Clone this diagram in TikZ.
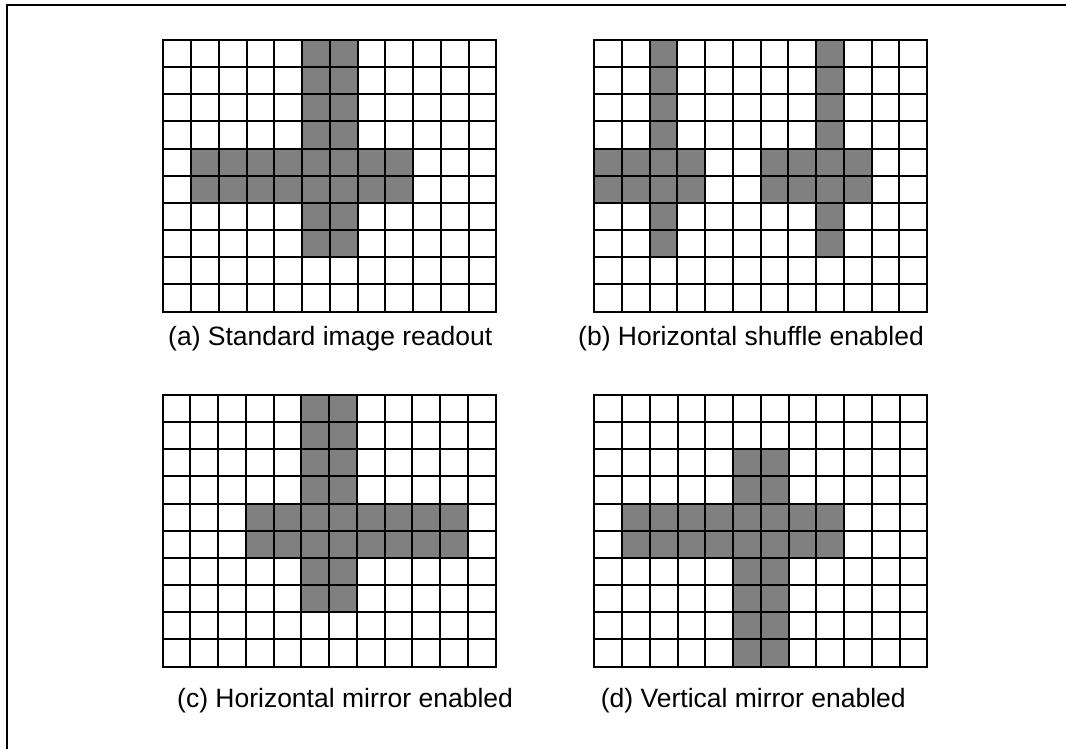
\documentclass[tikz,border=0pt]{standalone}
\usepackage{fontspec}
\setmainfont{Liberation Sans}
\newcommand\pixgrid{%
  \foreach \i in {1,...,11} \draw[gridline] (\i,0) -- (\i,10);
  \foreach \j in {1,...,9} \draw[gridline] (0,\j) -- (12,\j);
  \draw[gridline] (0,0) rectangle (12,10);
}
\begin{document}
\begin{tikzpicture}[x=1pt,y=-1pt,
  gridline/.style={line width=2pt, black},
  cellfill/.style={fill=gray},
  frameline/.style={line width=2pt, black},
  caption/.style={anchor=base west, inner sep=0pt, font=\fontsize{26.5}{30}\selectfont},
  cellunits/.style={x=27.75pt, y=-27.15pt}]
\useasboundingbox (0,0) rectangle (1066,749);
\fill[white] (0,0) rectangle (1066,749);
\draw[frameline] (6.5,749) -- (6.5,5.5) -- (1066,5.5);

% (a) standard
\begin{scope}[shift={(163.3pt,-40pt)}, cellunits]
  \fill[cellfill] (5,0) rectangle (7,8);
  \fill[cellfill] (1,4) rectangle (9,6);
  \pixgrid
\end{scope}
% (b) horizontal shuffle
\begin{scope}[shift={(594pt,-40pt)}, cellunits]
  \fill[cellfill] (2,0) rectangle (3,8);
  \fill[cellfill] (8,0) rectangle (9,8);
  \fill[cellfill] (0,4) rectangle (4,6);
  \fill[cellfill] (6,4) rectangle (10,6);
  \pixgrid
\end{scope}
% (c) horizontal mirror
\begin{scope}[shift={(162.7pt,-395pt)}, cellunits]
  \fill[cellfill] (5,0) rectangle (7,8);
  \fill[cellfill] (3,4) rectangle (11,6);
  \pixgrid
\end{scope}
% (d) vertical mirror
\begin{scope}[shift={(594.3pt,-395pt)}, cellunits]
  \fill[cellfill] (5,2) rectangle (7,10);
  \fill[cellfill] (1,4) rectangle (9,6);
  \pixgrid
\end{scope}

\node[caption] (capA) at (168,345) {(a) Standard image readout};
\node[caption] (capB) at (578,345) {(b) Horizontal shuffle enabled};
\node[caption] (capC) at (177,707) {(c) Horizontal mirror enabled};
\node[caption] (capD) at (600.7,707) {(d) Vertical mirror enabled};
\end{tikzpicture}
\end{document}
